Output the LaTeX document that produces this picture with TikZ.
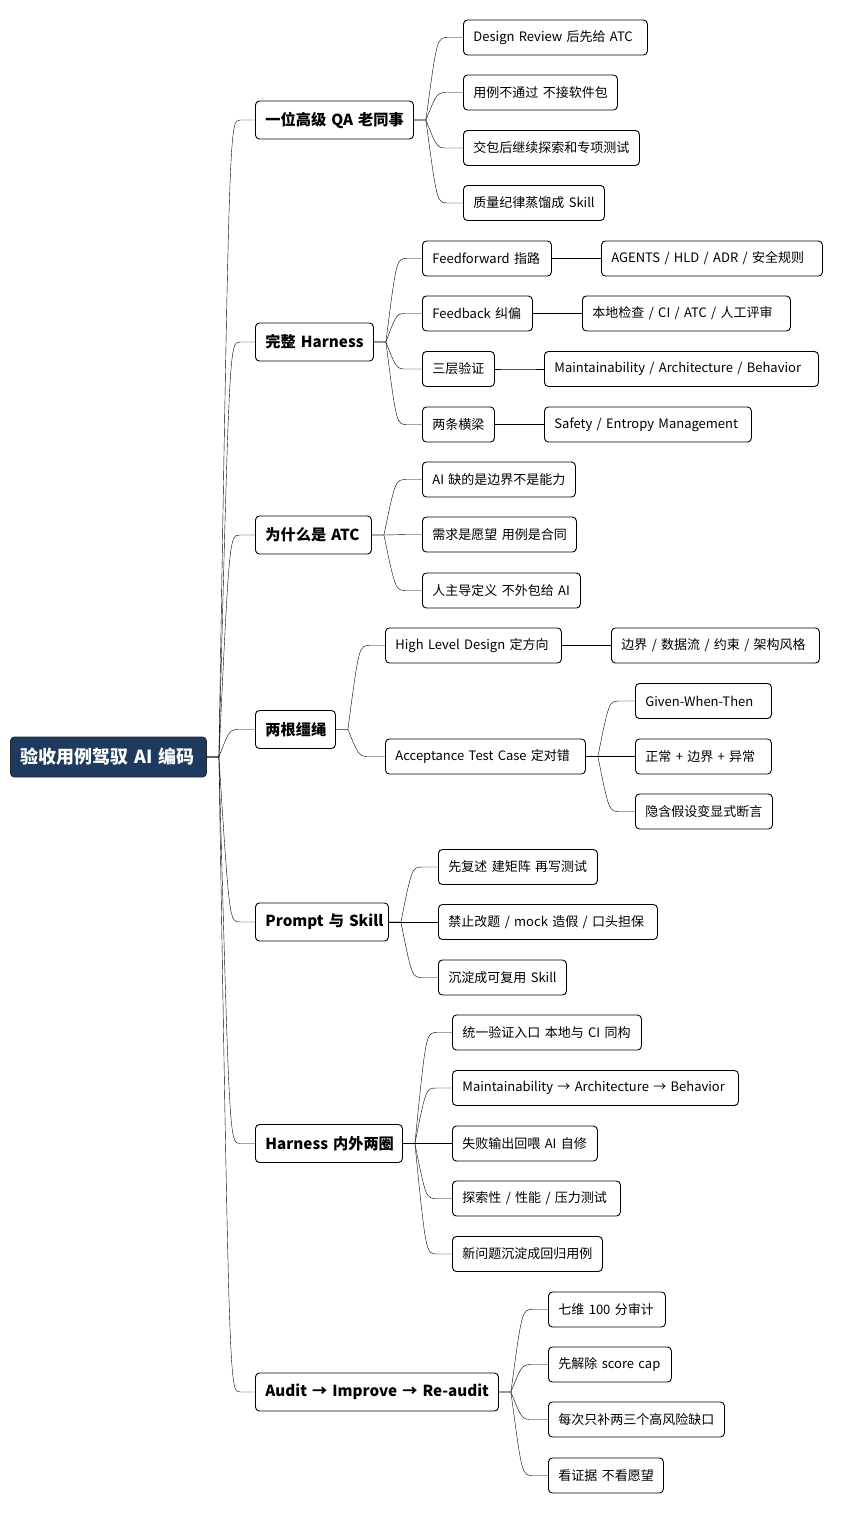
\documentclass[tikz,border=0pt]{standalone}
\usepackage{fontspec}
\setmainfont[WordSpace=1.6]{Noto Sans CJK SC}
\usetikzlibrary{calc}
\definecolor{rootblue}{HTML}{1F3A5F}
\tikzset{
  box/.style={draw=black, line width=0.9pt, rounded corners=4pt, fill=white, anchor=west,
    inner xsep=10pt, inner ysep=0pt, align=left, text=black},
  w/.code={\pgfmathsetmacro\tw{#1-20}\edef\next{\noexpand\pgfkeysalso{text width=\tw pt,minimum width=#1pt}}\next},
  rootbox/.style={box, fill=rootblue, draw=black!85, minimum height=40pt, text=white,
    font=\fontsize{18pt}{21pt}\selectfont\bfseries},
  lone/.style={box, minimum height=38pt, font=\fontsize{15.2pt}{18pt}\selectfont\bfseries},
  ltwo/.style={box, minimum height=35pt, font=\fontsize{13pt}{15pt}\selectfont},
  branch/.style={line width=0.8pt, to path={let \p1=(\tikztostart.east), \p2=(\tikztotarget.west) in
    (\p1) -- (\x1+12pt,\y1) .. controls ({0.5*\x1+0.5*\x2-1.5pt},\y2) .. (\x2-15pt,\y2) -- (\p2)}}
}
\begin{document}
\begin{tikzpicture}[x=1pt,y=-1pt]
\useasboundingbox (0,0) rectangle (842,1513);
% root
\node[rootbox, w=196] (root) at (10,757) {\mbox{验收用例驾驭 AI 编码}};
% level one
\node[lone, w=158] (a1) at (255,120) {\mbox{一位高级 QA 老同事}};
\node[lone, w=118] (a2) at (255,342) {\mbox{完整 Harness}};
\node[lone, w=116] (a3) at (255,535) {\mbox{为什么是 ATC}};
\node[lone, w=80] (a4) at (255,729.5) {\mbox{两根缰绳}};
\node[lone, w=133] (a5) at (255,922) {\mbox{Prompt 与 Skill}};
\node[lone, w=147] (a6) at (255,1143.5) {\mbox{Harness 内外两圈}};
\node[lone, w=243] (a7) at (255,1392) {\mbox{Audit → Improve → Re-audit}};
% group 1
\node[ltwo, w=184] (b11) at (463,37.5) {\mbox{Design Review 后先给 ATC}};
\node[ltwo, w=154] (b12) at (463,92.5) {\mbox{用例不通过 不接软件包}};
\node[ltwo, w=176] (b13) at (463,148) {\mbox{交包后继续探索和专项测试}};
\node[ltwo, w=141] (b14) at (463,203) {\mbox{质量纪律蒸馏成 Skill}};
% group 2
\node[ltwo, w=129] (b21) at (422,258.5) {\mbox{Feedforward 指路}};
\node[ltwo, w=221] (c21) at (601,258.5) {\mbox{AGENTS / HLD / ADR / 安全规则}};
\node[ltwo, w=110] (b22) at (422,313.5) {\mbox{Feedback 纠偏}};
\node[ltwo, w=208] (c22) at (582,313.5) {\mbox{本地检查 / CI / ATC / 人工评审}};
\node[ltwo, w=72] (b23) at (422,369) {\mbox{三层验证}};
\node[ltwo, w=274] (c23) at (544,369) {\mbox{Maintainability / Architecture / Behavior}};
\node[ltwo, w=72] (b24) at (422,424.5) {\mbox{两条横梁}};
\node[ltwo, w=207] (c24) at (544,424.5) {\mbox{Safety / Entropy Management}};
% group 3
\node[ltwo, w=153] (b31) at (422,479.5) {\mbox{AI 缺的是边界不是能力}};
\node[ltwo, w=154] (b32) at (422,534.5) {\mbox{需求是愿望 用例是合同}};
\node[ltwo, w=158] (b33) at (422,590.5) {\mbox{人主导定义 不外包给 AI}};
% group 4
\node[ltwo, w=176] (b41) at (385,645.5) {\mbox{High Level Design 定方向}};
\node[ltwo, w=208] (c41) at (611,645.5) {\mbox{边界 / 数据流 / 约束 / 架构风格}};
\node[ltwo, w=200] (b42) at (385,756.5) {\mbox{Acceptance Test Case 定对错}};
\node[ltwo, w=136] (c42a) at (635,701) {\mbox{Given-When-Then}};
\node[ltwo, w=136] (c42b) at (635,756.5) {\mbox{正常 + 边界 + 异常}};
\node[ltwo, w=137] (c42c) at (635,811.5) {\mbox{隐含假设变显式断言}};
% group 5
\node[ltwo, w=159] (b51) at (438,867) {\mbox{先复述 建矩阵 再写测试}};
\node[ltwo, w=219] (b52) at (438,922) {\mbox{禁止改题 / mock 造假 / 口头担保}};
\node[ltwo, w=128] (b53) at (438,977.5) {\mbox{沉淀成可复用 Skill}};
% group 6
\node[ltwo, w=189] (b61) at (452,1032.5) {\mbox{统一验证入口 本地与 CI 同构}};
\node[ltwo, w=286] (b62) at (452,1088) {\mbox{Maintainability → Architecture → Behavior}};
\node[ltwo, w=145] (b63) at (452,1143.5) {\mbox{失败输出回喂 AI 自修}};
\node[ltwo, w=168] (b64) at (452,1198.5) {\mbox{探索性 / 性能 / 压力测试}};
\node[ltwo, w=150] (b65) at (452,1254) {\mbox{新问题沉淀成回归用例}};
% group 7
\node[ltwo, w=117] (b71) at (548,1309.5) {\mbox{七维 100 分审计}};
\node[ltwo, w=123] (b72) at (548,1364.5) {\mbox{先解除 score cap}};
\node[ltwo, w=176] (b73) at (548,1419.5) {\mbox{每次只补两三个高风险缺口}};
\node[ltwo, w=115] (b74) at (548,1475.5) {\mbox{看证据 不看愿望}};
% connectors
\foreach \c in {a1,a2,a3,a4,a5,a6,a7} \draw (root) to[branch] (\c);
\foreach \c in {b11,b12,b13,b14} \draw (a1) to[branch] (\c);
\foreach \c in {b21,b22,b23,b24} \draw (a2) to[branch] (\c);
\draw (b21) to[branch] (c21);
\draw (b22) to[branch] (c22);
\draw (b23) to[branch] (c23);
\draw (b24) to[branch] (c24);
\foreach \c in {b31,b32,b33} \draw (a3) to[branch] (\c);
\foreach \c in {b41,b42} \draw (a4) to[branch] (\c);
\draw (b41) to[branch] (c41);
\foreach \c in {c42a,c42b,c42c} \draw (b42) to[branch] (\c);
\foreach \c in {b51,b52,b53} \draw (a5) to[branch] (\c);
\foreach \c in {b61,b62,b63,b64,b65} \draw (a6) to[branch] (\c);
\foreach \c in {b71,b72,b73,b74} \draw (a7) to[branch] (\c);
\end{tikzpicture}
\end{document}
